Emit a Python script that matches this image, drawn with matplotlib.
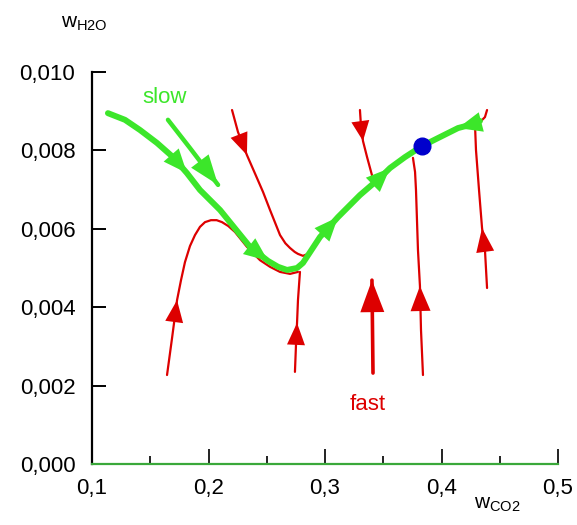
import matplotlib
matplotlib.use('Agg')
import matplotlib.pyplot as plt
import numpy as np
from matplotlib.patches import Polygon
from matplotlib.transforms import IdentityTransform

plt.rcParams['font.family'] = ['Liberation Sans', 'DejaVu Sans']
plt.rcParams['mathtext.fontset'] = 'custom'
plt.rcParams['mathtext.rm'] = 'Liberation Sans'

GREEN = '#3ce62a'
RED = '#dd0000'
BLUE = '#0000cc'

# ---------------- data ----------------
x_ticks = [0.1, 0.2, 0.3, 0.4, 0.5]
x_tick_labels = ['0,1', '0,2', '0,3', '0,4', '0,5']
x_minor_ticks = [0.15, 0.25, 0.35, 0.45]
y_ticks = [0.000, 0.002, 0.004, 0.006, 0.008, 0.010]
y_tick_labels = ['0,000', '0,002', '0,004', '0,006', '0,008', '0,010']

# slow manifold (thick green)
slow_x = [0.1137, 0.1283, 0.1412, 0.1558, 0.1695, 0.1815, 0.1927, 0.2099, 0.2356, 0.2511,
          0.2597, 0.2674, 0.2760, 0.2811, 0.2957, 0.3112, 0.3300, 0.3472, 0.3558, 0.3687,
          0.3833, 0.3987, 0.4142, 0.4245, 0.4330]
slow_y = [0.00895, 0.00878, 0.00852, 0.00819, 0.00783, 0.00742, 0.00699, 0.00648, 0.00554, 0.00518,
          0.00503, 0.00495, 0.00500, 0.00513, 0.00579, 0.00630, 0.00686, 0.00730, 0.00755, 0.00783,
          0.00811, 0.00834, 0.00857, 0.00865, 0.00875]
slow_arrows_fwd = [5, 9, 15, 18]
slow_arrows_back = [22]

# short "slow" arrow
slow2_x = [0.1652, 0.1841, 0.2082]
slow2_y = [0.00878, 0.00806, 0.00712]

# fast trajectories (thin red)
fast1_x = [0.1644, 0.1687, 0.1730, 0.1764, 0.1798, 0.1841, 0.1884, 0.1927, 0.1970, 0.2021,
           0.2070, 0.2116, 0.2170, 0.2227, 0.2330, 0.2442, 0.2528, 0.2614, 0.2700, 0.2768]
fast1_y = [0.00227, 0.00321, 0.00418, 0.00469, 0.00515, 0.00556, 0.00584, 0.00605, 0.00617, 0.00622,
           0.00622, 0.00617, 0.00607, 0.00592, 0.00554, 0.00520, 0.00503, 0.00490, 0.00485, 0.00490]
fast2_x = [0.2742, 0.2751, 0.2760, 0.2768, 0.2785]
fast2_y = [0.00235, 0.00304, 0.00360, 0.00418, 0.00490]
fast3_x = [0.2202, 0.2253, 0.2330, 0.2408, 0.2468, 0.2528, 0.2614, 0.2660, 0.2700, 0.2740,
           0.2768, 0.2811, 0.2854]
fast3_y = [0.00903, 0.00847, 0.00788, 0.00735, 0.00694, 0.00648, 0.00584, 0.00563, 0.00551, 0.00541,
           0.00536, 0.00531, 0.00536]
fast4_x = [0.3300, 0.3309, 0.3326, 0.3361, 0.3403]
fast4_y = [0.00903, 0.00862, 0.00824, 0.00783, 0.00737]
fast5_x = [0.3841, 0.3824, 0.3815, 0.3798, 0.3781, 0.3773, 0.3755]
fast5_y = [0.00227, 0.00342, 0.00454, 0.00546, 0.00699, 0.00745, 0.00781]
fast6_x = [0.4391, 0.4373, 0.4348, 0.4322, 0.4296, 0.4288, 0.4330, 0.4373, 0.4391]
fast6_y = [0.00449, 0.00546, 0.00602, 0.00699, 0.00801, 0.00862, 0.00872, 0.00885, 0.00903]
fast7_x = [0.3412, 0.3403]
fast7_y = [0.00232, 0.00469]

equilibrium_x = [0.383]
equilibrium_y = [0.00811]

# ---------------- figure ----------------
fig = plt.figure(figsize=(5.77, 5.25), dpi=100)
ax = fig.add_axes([92 / 577, 61 / 525, (558 - 92) / 577, (464 - 72) / 525])
ax.set_xlim(0.1, 0.5)
ax.set_ylim(0.0, 0.010)

for s in ['top', 'right']:
    ax.spines[s].set_visible(False)
ax.spines['left'].set_linewidth(1.6)
ax.spines['left'].set_color('black')
ax.spines['bottom'].set_linewidth(1.6)
ax.spines['bottom'].set_color('#3aa83a')

ax.set_xticks(x_ticks)
ax.set_xticklabels(x_tick_labels)
ax.set_xticks(x_minor_ticks, minor=True)
ax.set_yticks(y_ticks)
ax.set_yticklabels(y_tick_labels)
ax.tick_params(axis='x', which='major', direction='in', length=10.5, width=1.4,
               pad=10, labelsize=16, color='#222222')
ax.tick_params(axis='x', which='minor', direction='in', length=5.5, width=1.4, color='#222222')
ax.tick_params(axis='y', which='major', direction='in', length=10, width=1.4,
               pad=12, labelsize=16)


def arrowhead(xs, ys, idx, color, length, width, backward=False):
    pts = ax.transData.transform(np.column_stack([xs, ys]))
    tip = pts[idx]
    prev = pts[idx + 1] if backward else pts[idx - 1]
    u = tip - prev
    u = u / np.hypot(*u)
    n = np.array([-u[1], u[0]])
    base = tip - length * u
    tri = np.array([tip, base + n * width / 2, base - n * width / 2])
    ax.add_patch(Polygon(tri, closed=True, facecolor=color, edgecolor='none',
                         transform=IdentityTransform(), zorder=6, clip_on=False))


fast_curves = [
    (fast1_x, fast1_y, 1.6, [2], 22, 18),
    (fast2_x, fast2_y, 1.6, [2], 22, 18),
    (fast3_x, fast3_y, 1.6, [2], 22, 18),
    (fast4_x, fast4_y, 1.6, [2], 20, 18),
    (fast5_x, fast5_y, 1.6, [2], 25, 20),
    (fast6_x, fast6_y, 1.6, [2], 24, 18),
    (fast7_x, fast7_y, 2.6, [1], 32, 24),
]
for xs, ys, lw, arr, L, W in fast_curves:
    ax.plot(xs, ys, color=RED, lw=lw, solid_capstyle='round',
            solid_joinstyle='round', zorder=3)
    for i in arr:
        arrowhead(xs, ys, i, RED, L, W)

ax.plot(slow_x, slow_y, color=GREEN, lw=4.3, solid_capstyle='round',
        solid_joinstyle='round', zorder=4)
for i in slow_arrows_fwd:
    arrowhead(slow_x, slow_y, i, GREEN, 24, 20)
for i in slow_arrows_back:
    arrowhead(slow_x, slow_y, i, GREEN, 24, 20, backward=True)

ax.plot(slow2_x, slow2_y, color=GREEN, lw=3.2, solid_capstyle='round', zorder=4)
arrowhead(slow2_x, slow2_y, 2, GREEN, 30, 22)

ax.plot(equilibrium_x, equilibrium_y, 'o', ms=12, color=BLUE, zorder=8)

ax.text(0.1627, 0.00934, 'slow', color=GREEN, fontsize=16, ha='center', va='center')
ax.text(0.3369, 0.00151, 'fast', color=RED, fontsize=16, ha='center', va='center')

fig.text(61 / 577, 1 - 27.5 / 525, r'$\mathrm{w}_{\mathrm{H2O}}$', fontsize=15,
         ha='left', va='baseline')
fig.text(474 / 577, 1 - 508 / 525, r'$\mathrm{w}_{\mathrm{CO2}}$', fontsize=15,
         ha='left', va='baseline')

fig.savefig('out.png', dpi=100)
